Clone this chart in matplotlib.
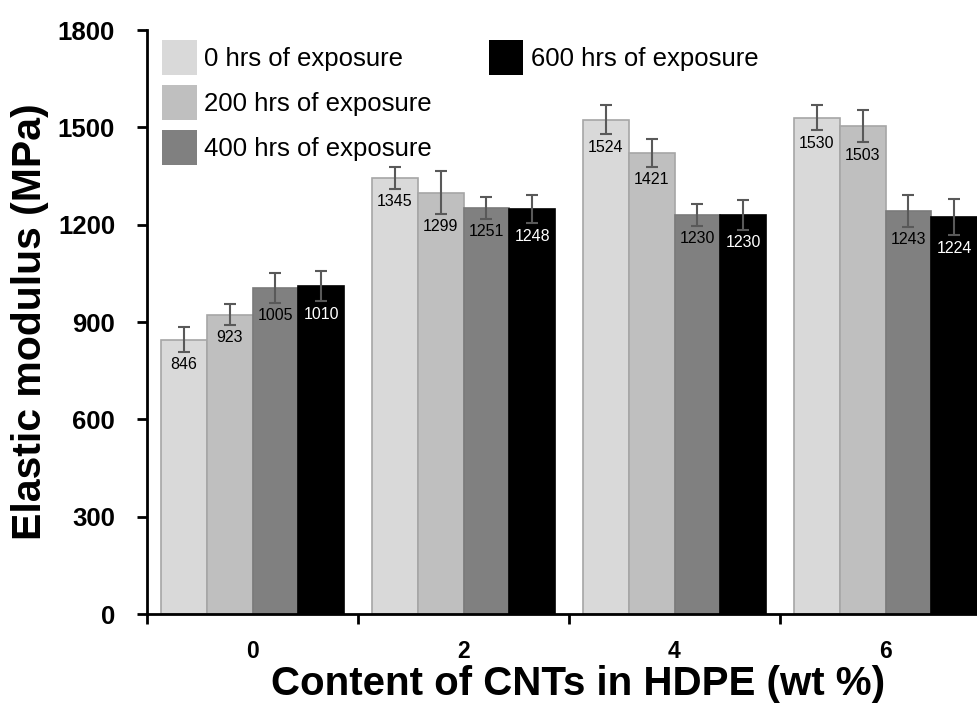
import numpy as np
import matplotlib
matplotlib.use("Agg")
import matplotlib.pyplot as plt
from matplotlib.patches import Patch

plt.rcParams["font.family"] = ["Liberation Sans", "DejaVu Sans"]

# =========================
# Données
# =========================
cnt_content = ["0", "2", "4", "6"]
series_labels = ["0 hrs of exposure", "200 hrs of exposure",
                 "400 hrs of exposure", "600 hrs of exposure"]

mod_0h = [846, 1345, 1524, 1530]
mod_200h = [923, 1299, 1421, 1503]
mod_400h = [1005, 1251, 1230, 1243]
mod_600h = [1010, 1248, 1230, 1224]

err_0h = [38, 34, 46, 39]
err_200h = [32, 65, 43, 49]
err_400h = [45, 33, 33, 49]
err_600h = [46, 44, 46, 56]

values = [mod_0h, mod_200h, mod_400h, mod_600h]
errors = [err_0h, err_200h, err_400h, err_600h]

face_colors = ["#d9d9d9", "#bfbfbf", "#808080", "#000000"]
edge_colors = ["#a6a6a6", "#a6a6a6", "#7a7a7a", "#000000"]
text_colors = ["black", "black", "black", "white"]

# =========================
# Figure
# =========================
fig = plt.figure(figsize=(9.77, 7.07), dpi=100)
# axe qui dépasse à droite (figure rognée comme l'originale)
ax = fig.add_axes([147 / 977, 1 - 614 / 707, (991 - 147) / 977, (614 - 30) / 707])

x = np.arange(len(cnt_content))
width = 0.218

for i in range(4):
    pos = x + (i - 1.5) * width
    ax.bar(pos, values[i], width, color=face_colors[i],
           edgecolor=edge_colors[i], linewidth=1.2, zorder=2)
    ax.errorbar(pos, values[i], yerr=errors[i], fmt="none",
                ecolor="#595959", elinewidth=1.5, capsize=4,
                capthick=1.5, zorder=3)
    for px, v, e in zip(pos, values[i], errors[i]):
        ax.annotate(f"{v}", xy=(px, v - e), xytext=(0, -4),
                    textcoords="offset points", ha="center", va="top",
                    fontsize=11.5, color=text_colors[i], zorder=4)

ax.set_xlim(-0.5, 3.5)
ax.set_ylim(0, 1800)
ax.set_yticks(np.arange(0, 1801, 300))

# ticks aux frontières, étiquettes au centre des groupes
ax.set_xticks(np.arange(-0.5, 3.6, 1.0))
ax.set_xticklabels([])
ax.set_xticks(x, minor=True)
ax.set_xticklabels(cnt_content, minor=True)
ax.tick_params(axis="x", which="minor", length=0, pad=19, labelsize=16.5)
ax.tick_params(axis="x", which="major", direction="out", length=7, width=2)
ax.tick_params(axis="y", direction="out", length=7, width=2, pad=16,
               labelsize=18.5)
for lab in ax.get_xticklabels(minor=True) + ax.get_yticklabels():
    lab.set_fontweight("bold")

for s in ["top", "right"]:
    ax.spines[s].set_visible(False)
for s in ["left", "bottom"]:
    ax.spines[s].set_linewidth(2)

ax.set_ylabel("Elastic modulus (MPa)", fontsize=29.5, fontweight="bold",
              labelpad=6)
ax.set_xlabel("Content of CNTs in HDPE (wt %)", fontsize=29,
              fontweight="bold")
ax.xaxis.set_label_coords((578 - 147) / (991 - 147), -0.087)

# Légende : 3 entrées dans la 1re colonne, 1 dans la 2e
handles = [Patch(facecolor=face_colors[i], edgecolor="none") for i in range(4)]
blank = Patch(facecolor="none", edgecolor="none")
leg_handles = handles[:3] + [handles[3], blank, blank]
leg_labels = series_labels[:3] + [series_labels[3], "", ""]
ax.legend(leg_handles, leg_labels, ncol=2, loc="upper left",
          bbox_to_anchor=(15 / 844, 1 - 10 / 584), frameon=False,
          fontsize=18.5, handlelength=1.35, handleheight=1.7,
          handletextpad=0.3, columnspacing=2.2, labelspacing=0.41,
          borderpad=0, borderaxespad=0)

fig.savefig("out.png", dpi=100)
